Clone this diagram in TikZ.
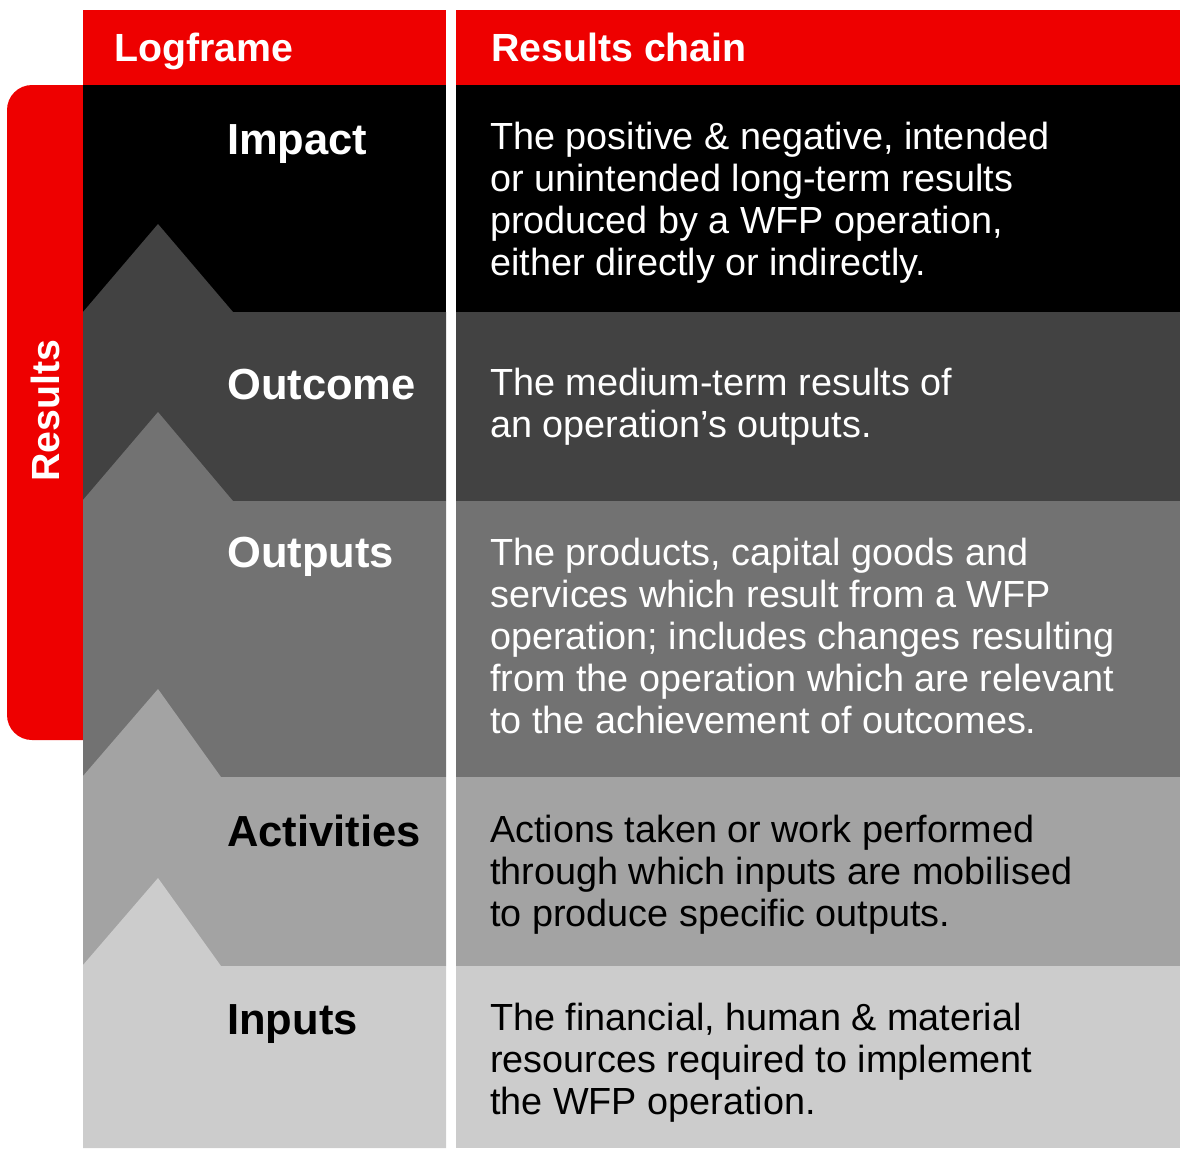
\documentclass[tikz,border=0pt]{standalone}
\usepackage{fontspec}
\setmainfont{Liberation Sans}
\definecolor{wfpred}{HTML}{EE0000}
\definecolor{cImpact}{HTML}{000000}
\definecolor{cOutcome}{HTML}{424242}
\definecolor{cOutputs}{HTML}{727272}
\definecolor{cAct}{HTML}{A3A3A3}
\definecolor{cIn}{HTML}{CCCCCC}
\begin{document}
\begin{tikzpicture}[x=1pt,y=-1pt,
  lab/.style={anchor=base west, inner sep=0pt, font=\fontsize{43.5}{48}\selectfont\bfseries},
  hdr/.style={anchor=base west, inner sep=0pt, font=\fontsize{39.3}{44}\selectfont\bfseries, text=white},
  desc/.style={anchor=base west, inner sep=0pt, align=left, font=\fontsize{37.8}{42}\selectfont},
]
\useasboundingbox (0,0) rectangle (1180,1148);
% header
\fill[wfpred] (83,10) rectangle (446,85);
\fill[wfpred] (456,10) rectangle (1180,85);
% results tab
\fill[wfpred, rounded corners=25pt] (7,85) rectangle (130,740);
% left column bands
\fill[cImpact] (83,85) rectangle (446,312);
\fill[cOutcome] (83,312) -- (158,224) -- (233,312) -- (446,312) -- (446,501) -- (83,501) -- cycle;
\fill[cOutputs] (83,500) -- (158,412) -- (233,501) -- (446,501) -- (446,777) -- (83,777) -- cycle;
\fill[cAct] (83,776) -- (158,689) -- (221,777) -- (446,777) -- (446,966) -- (83,966) -- cycle;
\fill[cIn] (83,965) -- (158,878) -- (221,966) -- (446,966) -- (446,1148) -- (83,1148) -- cycle;
% right column bands
\fill[cImpact] (456,85) rectangle (1180,312);
\fill[cOutcome] (456,312) rectangle (1180,501);
\fill[cOutputs] (456,501) rectangle (1180,777);
\fill[cAct] (456,777) rectangle (1180,966);
\fill[cIn] (456,966) rectangle (1180,1148);
% header texts
\node[hdr] (hlog) at (114,62) {Logframe};
\node[hdr] (hres) at (491,62) {Results chain};
\node[rotate=90, anchor=base, inner sep=0pt, text=white, font=\fontsize{39.3}{44}\selectfont\bfseries] (results) at (59,411) {Results};
% labels
\node[lab, text=white] (impact) at (227,154) {Impact};
\node[lab, text=white] (outcome) at (227,399) {Outcome};
\node[lab, text=white] (outputs) at (227,567) {Outputs};
\node[lab, text=black] (activities) at (227,846) {Activities};
\node[lab, text=black] (inputs) at (227,1034) {Inputs};
% descriptions (base = baseline of last line)
\node[desc, text=white] (dimpact) at (490,275) {The positive \& negative, intended\\or unintended long-term results\\produced by a WFP operation,\\either directly or indirectly.};
\node[desc, text=white] (doutcome) at (490,437) {The medium-term results of\\an operation’s outputs.};
\node[desc, text=white] (doutputs) at (490,733) {The products, capital goods and\\services which result from a WFP\\operation; includes changes resulting\\from the operation which are relevant\\to the achievement of outcomes.};
\node[desc, text=black] (dact) at (490,926) {Actions taken or work performed\\through which inputs are mobilised\\to produce specific outputs.};
\node[desc, text=black] (dinputs) at (490,1114) {The financial, human \& material\\resources required to implement\\the WFP operation.};
\end{tikzpicture}
\end{document}
